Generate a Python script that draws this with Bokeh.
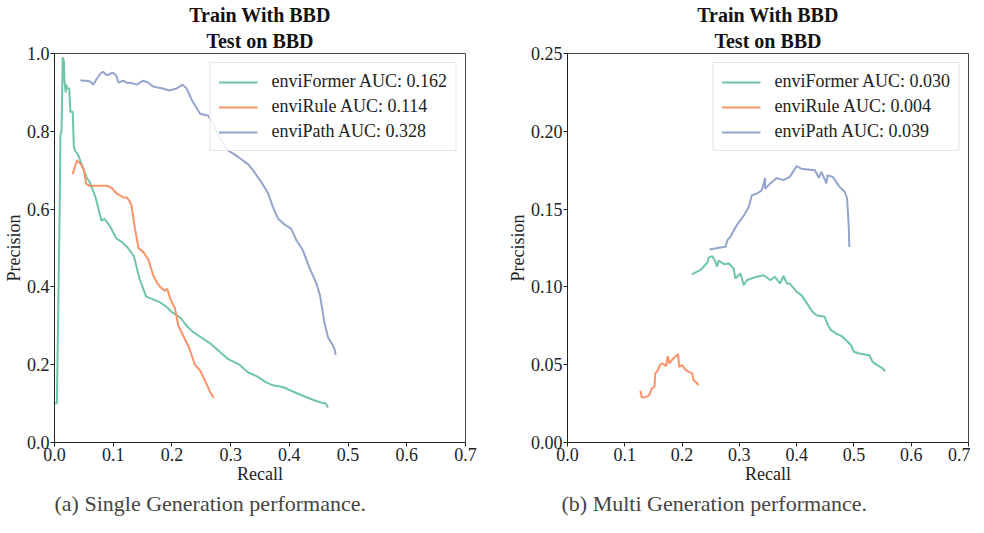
from bokeh.plotting import figure
from bokeh.layouts import row
from bokeh.models import Title, FixedTicker, PrintfTickFormatter, Legend, LegendItem
from bokeh.embed import file_html
from bokeh.resources import INLINE

# ---------------- data: (a) single generation ----------------
a_former_x = [0.001, 0.004, 0.006, 0.009, 0.010, 0.012, 0.014, 0.016, 0.017, 0.019, 0.020, 0.022, 0.025,
              0.027, 0.031, 0.033, 0.035, 0.040, 0.045, 0.050, 0.055, 0.060, 0.065, 0.070, 0.075, 0.080,
              0.085, 0.090, 0.095, 0.100, 0.105, 0.115, 0.125, 0.135, 0.140, 0.145, 0.150, 0.156, 0.165,
              0.180, 0.190, 0.200, 0.215, 0.225, 0.235, 0.250, 0.265, 0.280, 0.295, 0.315, 0.330, 0.345,
              0.360, 0.370, 0.390, 0.400, 0.420, 0.440, 0.455, 0.462, 0.466]
a_former_y = [0.10, 0.10, 0.30, 0.62, 0.79, 0.80, 0.99, 0.98, 0.93, 0.90, 0.92, 0.91, 0.91,
              0.85, 0.85, 0.76, 0.75, 0.74, 0.72, 0.70, 0.68, 0.67, 0.65, 0.63, 0.60, 0.57,
              0.575, 0.565, 0.555, 0.54, 0.525, 0.515, 0.50, 0.48, 0.45, 0.42, 0.40, 0.375, 0.37,
              0.36, 0.35, 0.335, 0.32, 0.30, 0.285, 0.27, 0.255, 0.235, 0.215, 0.20, 0.18, 0.17,
              0.155, 0.148, 0.142, 0.135, 0.122, 0.11, 0.102, 0.10, 0.09]

a_rule_x = [0.031, 0.035, 0.038, 0.042, 0.046, 0.050, 0.054, 0.060, 0.070, 0.080, 0.089, 0.097, 0.106,
            0.112, 0.117, 0.123, 0.128, 0.131, 0.134, 0.137, 0.143, 0.151, 0.160, 0.168, 0.175, 0.180,
            0.188, 0.192, 0.197, 0.205, 0.211, 0.219, 0.229, 0.239, 0.248, 0.256, 0.265, 0.271]
a_rule_y = [0.69, 0.71, 0.725, 0.72, 0.713, 0.70, 0.665, 0.66, 0.66, 0.66, 0.66, 0.655, 0.64,
            0.635, 0.63, 0.63, 0.62, 0.61, 0.58, 0.55, 0.50, 0.49, 0.47, 0.43, 0.41, 0.40,
            0.39, 0.395, 0.37, 0.345, 0.30, 0.275, 0.245, 0.20, 0.185, 0.16, 0.13, 0.115]

a_path_x = [0.044, 0.050, 0.055, 0.060, 0.063, 0.066, 0.072, 0.078, 0.083, 0.088, 0.092, 0.097, 0.100,
            0.104, 0.106, 0.109, 0.117, 0.123, 0.129, 0.140, 0.151, 0.160, 0.168, 0.178, 0.185, 0.195,
            0.208, 0.213, 0.218, 0.225, 0.234, 0.242, 0.248, 0.262, 0.270, 0.282, 0.296, 0.307, 0.321,
            0.330, 0.338, 0.352, 0.364, 0.372, 0.381, 0.392, 0.403, 0.412, 0.423, 0.434, 0.446, 0.452,
            0.460, 0.466, 0.474, 0.477, 0.479]
a_path_y = [0.931, 0.93, 0.93, 0.928, 0.925, 0.92, 0.935, 0.948, 0.953, 0.945, 0.945, 0.95, 0.95,
            0.945, 0.94, 0.925, 0.93, 0.925, 0.925, 0.92, 0.93, 0.925, 0.915, 0.912, 0.91, 0.905,
            0.91, 0.915, 0.92, 0.91, 0.88, 0.86, 0.845, 0.84, 0.82, 0.78, 0.75, 0.74, 0.725,
            0.715, 0.70, 0.67, 0.64, 0.605, 0.575, 0.56, 0.55, 0.52, 0.494, 0.45, 0.409, 0.38,
            0.306, 0.27, 0.25, 0.24, 0.225]

# ---------------- data: (b) multi generation ----------------
b_former_x = [0.217, 0.2325, 0.244, 0.247, 0.253, 0.2585, 0.261, 0.264, 0.273, 0.2816, 0.290, 0.293,
              0.302, 0.3076, 0.313, 0.325, 0.342, 0.348, 0.354, 0.362, 0.371, 0.377, 0.383, 0.388,
              0.400, 0.4085, 0.420, 0.4276, 0.4345, 0.449, 0.4547, 0.460, 0.469, 0.480, 0.489, 0.495,
              0.500, 0.5095, 0.527, 0.5326, 0.541, 0.550, 0.5545]
b_former_y = [0.108, 0.111, 0.1155, 0.119, 0.1197, 0.116, 0.113, 0.117, 0.1146, 0.115, 0.1118, 0.1054,
              0.1086, 0.1011, 0.1043, 0.106, 0.1075, 0.106, 0.1043, 0.1065, 0.1022, 0.107, 0.1022, 0.1022,
              0.0968, 0.0947, 0.0883, 0.084, 0.0818, 0.0808, 0.0754, 0.0722, 0.070, 0.068, 0.0647, 0.0625,
              0.0583, 0.0572, 0.0561, 0.0518, 0.0497, 0.0476, 0.0458]

b_rule_x = [0.127, 0.130, 0.137, 0.143, 0.147, 0.152, 0.153, 0.158, 0.161, 0.166, 0.172, 0.175, 0.178,
            0.182, 0.189, 0.193, 0.195, 0.200, 0.2066, 0.212, 0.218, 0.220, 0.224, 0.2285]
b_rule_y = [0.0332, 0.0289, 0.0293, 0.0304, 0.0347, 0.0358, 0.0443, 0.0465, 0.0497, 0.0508, 0.049, 0.0555,
            0.0508, 0.053, 0.0555, 0.0568, 0.0486, 0.0497, 0.0465, 0.0454, 0.0443, 0.040, 0.039, 0.0368]

b_path_x = [0.248, 0.262, 0.276, 0.279, 0.284, 0.296, 0.308, 0.316, 0.322, 0.331, 0.339, 0.345, 0.345,
            0.354, 0.365, 0.377, 0.388, 0.400, 0.408, 0.420, 0.432, 0.439, 0.443, 0.452, 0.454, 0.463,
            0.475, 0.484, 0.488, 0.489, 0.491, 0.492]
b_path_y = [0.124, 0.125, 0.1258, 0.130, 0.132, 0.140, 0.146, 0.151, 0.159, 0.160, 0.162, 0.170, 0.163,
            0.1665, 0.170, 0.1686, 0.1707, 0.1776, 0.176, 0.1755, 0.175, 0.170, 0.174, 0.1665, 0.1718, 0.1707,
            0.1643, 0.161, 0.157, 0.151, 0.1386, 0.1257]

labels_a = ["enviFormer AUC: 0.162", "enviRule AUC: 0.114", "enviPath AUC: 0.328"]
labels_b = ["enviFormer AUC: 0.030", "enviRule AUC: 0.004", "enviPath AUC: 0.039"]
title_line1 = "Train With BBD"
title_line2 = "Test on BBD"
x_ticks = [0.0, 0.1, 0.2, 0.3, 0.4, 0.5, 0.6, 0.7]
y_ticks_a = [0.0, 0.2, 0.4, 0.6, 0.8, 1.0]
y_ticks_b = [0.0, 0.05, 0.10, 0.15, 0.20, 0.25]
colors = ["#66c2a5", "#fc8d62", "#8da0cb"]

FONT = "Liberation Serif"


def make_fig(series, labels, yticks, ymax, yfmt, caption, fw, bl, br, cap_offset):
    p = figure(frame_width=fw, frame_height=389, x_range=(0, 0.7), y_range=(0, ymax),
               output_backend="svg", toolbar_location=None,
               min_border_left=bl, min_border_right=br, min_border_top=45, min_border_bottom=80)
    p.title.text = title_line1
    p.title.align = "center"
    p.title.text_font = FONT
    p.title.text_font_size = "20px"
    p.title.text_font_style = "bold"
    p.title.standoff = 2
    p.title.text_color = "#111111"
    sub = Title(text=title_line2, align="center", text_font=FONT, text_font_size="20px",
                text_font_style="bold", standoff=3, text_color="#111111")
    p.add_layout(sub, "above")

    p.grid.visible = False
    p.outline_line_color = "#444444"
    p.outline_line_width = 1
    p.background_fill_color = "white"
    p.border_fill_color = "white"

    for ax in (p.xaxis[0], p.yaxis[0]):
        ax.major_label_text_font = FONT
        ax.major_label_text_font_size = "18px"
        ax.major_label_text_color = "#222222"
        ax.axis_label_text_font = FONT
        ax.axis_label_text_font_size = "18px"
        ax.axis_label_text_font_style = "normal"
        ax.axis_label_text_color = "#222222"
        ax.minor_tick_line_color = None
        ax.major_tick_out = 4
        ax.major_tick_in = 0
        ax.axis_line_color = "#222222"
        ax.major_tick_line_color = "#222222"
        ax.major_label_standoff = 1
        ax.axis_label_standoff = 0

    p.xaxis[0].ticker = FixedTicker(ticks=x_ticks)
    p.xaxis[0].formatter = PrintfTickFormatter(format="%.1f")
    p.xaxis[0].axis_label = "Recall"
    p.yaxis[0].ticker = FixedTicker(ticks=yticks)
    p.yaxis[0].formatter = PrintfTickFormatter(format=yfmt)
    p.yaxis[0].axis_label = "Precision"

    items = []
    for (xs, ys), lab, c in zip(series, labels, colors):
        r = p.line(xs, ys, line_color=c, line_width=2.0, line_alpha=0.95)
        items.append(LegendItem(label=lab, renderers=[r]))

    leg = Legend(items=items, location="top_right")
    leg.label_text_font = FONT
    leg.label_text_font_size = "18px"
    leg.label_text_color = "#222222"
    leg.glyph_width = 39
    leg.glyph_height = 20
    leg.label_height = 20
    leg.label_standoff = 14
    leg.spacing = 4
    leg.padding = 8
    leg.margin = 9
    leg.border_line_color = "#cccccc"
    leg.border_line_width = 1
    leg.background_fill_alpha = 0.85
    p.add_layout(leg)

    cap = Title(text=caption, align="left", offset=cap_offset, text_font=FONT,
                text_font_size="22px", text_font_style="normal", standoff=4)
    p.add_layout(cap, "below")
    return p


p1 = make_fig([(a_former_x, a_former_y), (a_rule_x, a_rule_y), (a_path_x, a_path_y)],
              labels_a, y_ticks_a, 1.0, "%.1f", "(a) Single Generation performance.", 411, 48, 39, 0)
p2 = make_fig([(b_former_x, b_former_y), (b_rule_x, b_rule_y), (b_path_x, b_path_y)],
              labels_b, y_ticks_b, 0.25, "%.2f", "(b) Multi Generation performance.", 401, 55, 2, -6)

layout = row(p1, p2, spacing=0)
open("out.html", "w").write(file_html(layout, INLINE))
